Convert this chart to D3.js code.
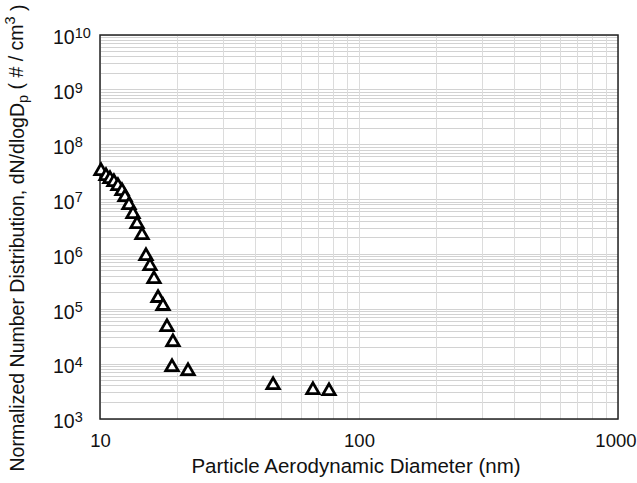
<!DOCTYPE html>
<html>
<head>
<meta charset="utf-8">
<script src="https://cdn.jsdelivr.net/npm/d3@7"></script>
<style>
  body { margin: 0; background: #fff; }
  text { font-family: "Liberation Sans", Arial, sans-serif; fill: #111; }
</style>
</head>
<body>
<svg id="chart" width="637" height="483"></svg>
<script>
// Data
const diameters = [10.09, 10.55, 10.93, 11.32, 11.73, 12.16, 12.49, 12.94, 13.41, 13.90, 14.53,
                   15.05, 15.60, 16.16, 16.75, 17.51, 18.14, 19.13, 18.97, 21.87, 46.6, 66.4, 76.6];
const concentrations = [3.32e7, 2.69e7, 2.37e7, 2.09e7, 1.77e7, 1.43e7, 1.11e7, 7.96e6, 5.46e6, 3.58e6, 2.26e6,
                        9.36e5, 6.15e5, 3.56e5, 1.61e5, 1.15e5, 4.75e4, 2.53e4, 8.87e3, 7.50e3, 4.17e3, 3.38e3, 3.24e3];
const xTickValues = [10, 100, 1000];
const yTickExponents = [3, 4, 5, 6, 7, 8, 9, 10];
const xTitle = "Particle Aerodynamic Diameter (nm)";

(function () {
const svg = d3.select("#chart");
const pL = 100, pR = 618, pT = 35, pB = 419;

const x = d3.scaleLog().domain([10, 1000]).range([pL, pR]);
const y = d3.scaleLog().domain([1e3, 1e10]).range([pB, pT]);

// Gridlines
const grid = svg.append("g");
grid.selectAll("line.h").data(y.ticks()).join("line").attr("class", "h")
  .attr("x1", pL).attr("x2", pR)
  .attr("y1", d => y(d)).attr("y2", d => y(d))
  .attr("stroke", "#d2d2d2").attr("stroke-width", 1).attr("shape-rendering", "crispEdges");
grid.selectAll("line.v").data(x.ticks()).join("line").attr("class", "v")
  .attr("y1", pT).attr("y2", pB)
  .attr("x1", d => x(d)).attr("x2", d => x(d))
  .attr("stroke", "#dcdcdc").attr("stroke-width", 1).attr("shape-rendering", "crispEdges");

// Frame
svg.append("rect").attr("x", pL).attr("y", pT)
  .attr("width", pR - pL).attr("height", pB - pT)
  .attr("fill", "none").attr("stroke", "#222").attr("stroke-width", 1.5);

// X axis
const xAxis = d3.axisBottom(x).tickValues(xTickValues).tickSize(0).tickFormat(d3.format("d"));
const gx = svg.append("g").attr("transform", `translate(0,${pB})`).call(xAxis);
gx.select(".domain").remove();
gx.selectAll("text").attr("dy", 0).attr("y", 28).style("font-size", "18.5px")
  .style("font-family", "'Liberation Sans', Arial, sans-serif").attr("fill", "#111");
// keep the last label inside the canvas, as in the reference
gx.selectAll(".tick").filter(d => d === 1000).select("text")
  .attr("text-anchor", "end").attr("x", 636 - pR);

// Y axis with superscript exponents
const yAxis = d3.axisLeft(y).tickValues(yTickExponents.map(e => Math.pow(10, e))).tickSize(0).tickFormat(() => "");
const gy = svg.append("g").attr("transform", `translate(${pL},0)`).call(yAxis);
gy.select(".domain").remove();
gy.selectAll(".tick text").each(function(d) {
  const t = d3.select(this);
  t.attr("x", 53 - pL).attr("dy", "0.45em").attr("text-anchor", "start")
    .style("font-size", "19.5px").style("font-family", "'Liberation Sans', Arial, sans-serif").attr("fill", "#111");
  t.append("tspan").text("10");
  t.append("tspan").attr("dy", "-0.45em").style("font-size", "14.5px").text(Math.round(Math.log10(d)));
});

// X title
svg.append("text").attr("x", 356).attr("y", 473).attr("text-anchor", "middle")
  .style("font-size", "20.5px").text(xTitle);

// Y title (rotated)
const yt = svg.append("text").attr("transform", "translate(24,238) rotate(-90)")
  .attr("text-anchor", "middle").style("font-size", "19.5px");
yt.append("tspan").text("Normalized Number Distribution, dN/dlogD");
yt.append("tspan").attr("dy", "0.3em").style("font-size", "14.5px").text("p");
yt.append("tspan").attr("dy", "-0.3em").text(" ( # / cm");
yt.append("tspan").attr("dy", "-0.5em").style("font-size", "14.5px").text("3");
yt.append("tspan").attr("dy", "0.5em").text(" )");

// Points
const tri = d3.symbol().type(d3.symbolTriangle).size(66);
svg.append("g").selectAll("path").data(diameters.map((d, i) => [d, concentrations[i]])).join("path")
  .attr("d", tri)
  .attr("transform", d => `translate(${x(d[0])},${y(d[1])})`)
  .attr("fill", "#fff").attr("stroke", "#000").attr("stroke-width", 2.8).attr("stroke-linejoin", "miter");
})();
</script>
</body>
</html>
